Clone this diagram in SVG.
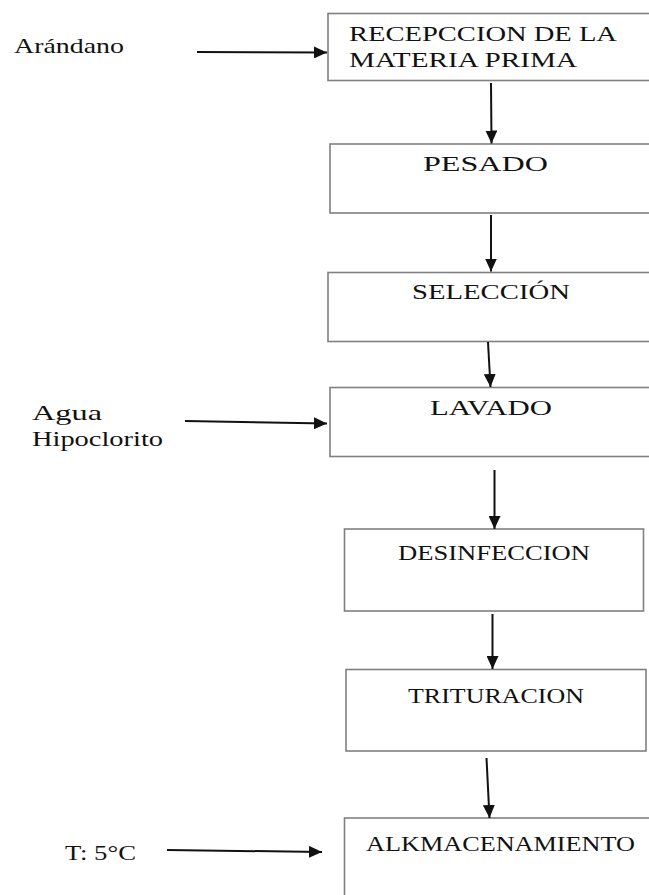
<svg xmlns="http://www.w3.org/2000/svg" width="649" height="895" viewBox="0 0 649 895">
<defs>
<style>
.box{fill:#fff;stroke:#808080;stroke-width:1.6}
.t{font-family:'Liberation Serif','DejaVu Serif','Times New Roman',serif;font-size:21px;fill:#111}
.c{stroke:#111;stroke-width:2;fill:none}
</style>
<marker id="ah" markerUnits="userSpaceOnUse" markerWidth="14" markerHeight="12" refX="13" refY="6" orient="auto">
<path d="M0,0 L13,6 L0,12 Z" fill="#111"/>
</marker>
</defs>
<rect width="649" height="895" fill="#fff"/>
<g id="inputs">
<text class="t" x="14" y="53" textLength="110" lengthAdjust="spacingAndGlyphs">Arándano</text>
<text class="t" x="32" y="420" textLength="70" lengthAdjust="spacingAndGlyphs">Agua</text>
<text class="t" x="32" y="446" textLength="131" lengthAdjust="spacingAndGlyphs">Hipoclorito</text>
<text class="t" x="65" y="860" textLength="71" lengthAdjust="spacingAndGlyphs">T: 5°C</text>
</g>
<g id="n1">
<rect class="box" x="328" y="13.5" width="340" height="67"/>
<text class="t" x="349" y="41" textLength="268" lengthAdjust="spacingAndGlyphs">RECEPCCION DE LA</text>
<text class="t" x="349" y="67" textLength="228" lengthAdjust="spacingAndGlyphs">MATERIA PRIMA</text>
</g>
<g id="n2">
<rect class="box" x="330" y="144" width="340" height="69"/>
<text class="t" x="423" y="171" textLength="125" lengthAdjust="spacingAndGlyphs">PESADO</text>
</g>
<g id="n3">
<rect class="box" x="328" y="272.5" width="340" height="69"/>
<text class="t" x="412" y="299" textLength="158" lengthAdjust="spacingAndGlyphs">SELECCIÓN</text>
</g>
<g id="n4">
<rect class="box" x="330" y="387.5" width="340" height="69"/>
<text class="t" x="430" y="415" textLength="122" lengthAdjust="spacingAndGlyphs">LAVADO</text>
</g>
<g id="n5">
<rect class="box" x="344.5" y="529" width="299" height="82"/>
<text class="t" x="398" y="560" textLength="192" lengthAdjust="spacingAndGlyphs">DESINFECCION</text>
</g>
<g id="n6">
<rect class="box" x="346" y="669.5" width="300" height="81.5"/>
<text class="t" x="408" y="703" textLength="176" lengthAdjust="spacingAndGlyphs">TRITURACION</text>
</g>
<g id="n7">
<rect class="box" x="344.5" y="818" width="330" height="100"/>
<text class="t" x="366" y="851" textLength="269" lengthAdjust="spacingAndGlyphs">ALKMACENAMIENTO</text>
</g>
<g id="connectors">
<line class="c" x1="197" y1="52" x2="327" y2="52.5" marker-end="url(#ah)"/>
<line class="c" x1="185" y1="421" x2="327" y2="423.5" marker-end="url(#ah)"/>
<line class="c" x1="167" y1="850" x2="322" y2="852" marker-end="url(#ah)"/>
<line class="c" x1="491" y1="83" x2="491.5" y2="143.5" marker-end="url(#ah)"/>
<line class="c" x1="491" y1="215" x2="491" y2="271.5" marker-end="url(#ah)"/>
<line class="c" x1="488" y1="342" x2="490.5" y2="387" marker-end="url(#ah)"/>
<line class="c" x1="494.5" y1="470" x2="494.5" y2="529" marker-end="url(#ah)"/>
<line class="c" x1="492.5" y1="614" x2="492.5" y2="669" marker-end="url(#ah)"/>
<line class="c" x1="486.5" y1="758" x2="489.5" y2="818" marker-end="url(#ah)"/>
</g>
</svg>
